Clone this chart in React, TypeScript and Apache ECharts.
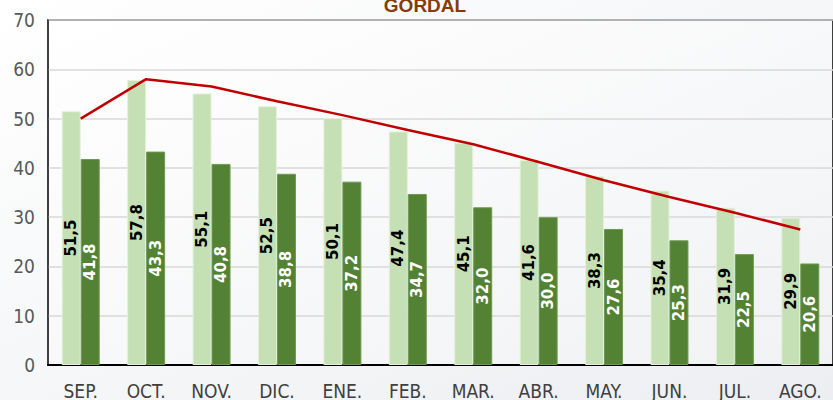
import React, { useEffect, useRef } from "react";
import * as echarts from "echarts";

const categories = ["SEP.", "OCT.", "NOV.", "DIC.", "ENE.", "FEB.", "MAR.", "ABR.", "MAY.", "JUN.", "JUL.", "AGO."];
const lightValues = [51.5, 57.8, 55.1, 52.5, 50.1, 47.4, 45.1, 41.6, 38.3, 35.4, 31.9, 29.9];
const darkValues = [41.8, 43.3, 40.8, 38.8, 37.2, 34.7, 32.0, 30.0, 27.6, 25.3, 22.5, 20.6];
const lineValues = [50.0, 58.0, 56.5, 53.5, 50.7, 47.7, 44.8, 41.2, 37.5, 34.1, 30.9, 27.5];
const titleText = "GORDAL";

const narrow = "'Liberation Sans Narrow', 'Arial Narrow', 'DejaVu Sans Condensed', 'Liberation Sans', Arial, sans-serif";
const fmt = (v: number) => v.toFixed(1).replace(".", ",");

export default function App() {
  const ref = useRef<HTMLDivElement>(null);
  useEffect(() => {
    document.body.style.margin = "0";
    const chart = echarts.init(ref.current!, null, { renderer: "svg" });
    chart.setOption({
      animation: false,
      backgroundColor: new echarts.graphic.LinearGradient(0, 0, 1, 1, [
        { offset: 0, color: "#ffffff" },
        { offset: 1, color: "#eceef1" },
      ]),
      title: {
        text: titleText,
        left: 425,
        textAlign: "center",
        top: -4,
        padding: 0,
        textStyle: { color: "#843c0c", fontSize: 19, fontWeight: "bold", fontFamily: "'Liberation Sans', Arial, sans-serif" },
      },
      grid: {
        left: 48,
        top: 20,
        bottom: 35,
        width: 800,
        show: true,
        borderColor: "#000000",
        borderWidth: 1.5,
        backgroundColor: new echarts.graphic.LinearGradient(0, 0, 1, 1, [
          { offset: 0, color: "#ffffff" },
          { offset: 1, color: "#f1f2f4" },
        ]),
      },
      xAxis: {
        type: "category",
        data: categories,
        axisLine: { lineStyle: { color: "#000000", width: 2 } },
        axisTick: { show: false },
        axisLabel: { color: "#404040", fontSize: 19, fontFamily: narrow, margin: 16 },
      },
      yAxis: {
        type: "value",
        min: 0,
        max: 70,
        interval: 10,
        axisLine: { show: true, lineStyle: { color: "#404040", width: 1.5 } },
        axisTick: { show: false },
        splitLine: { lineStyle: { color: "#d9d9d9", width: 1.5 } },
        axisLabel: { color: "#595959", fontSize: 19, fontFamily: narrow, margin: 13 },
      },
      series: [
        {
          type: "bar",
          data: lightValues,
          barWidth: 19,
          barGap: "0%",
          itemStyle: { color: "#c5e0b4", borderColor: "#e4f0dc", borderWidth: 1 },
          label: {
            show: true,
            position: "inside",
            rotate: 90,
            formatter: (p: any) => fmt(p.value),
            color: "#000000",
            fontSize: 15,
            fontWeight: "bold",
            fontFamily: "'DejaVu Sans', Verdana, sans-serif",
          },
        },
        {
          type: "bar",
          data: darkValues,
          barWidth: 19,
          barGap: "0%",
          itemStyle: { color: "#548235", borderColor: "#6f9a52", borderWidth: 1 },
          label: {
            show: true,
            position: "inside",
            rotate: 90,
            formatter: (p: any) => fmt(p.value),
            color: "#ffffff",
            fontSize: 15,
            fontWeight: "bold",
            fontFamily: "'DejaVu Sans', Verdana, sans-serif",
          },
        },
        {
          type: "line",
          data: lineValues,
          symbol: "none",
          lineStyle: { color: "#c00000", width: 2.5 },
          z: 5,
        },
      ],
    });
    return () => chart.dispose();
  }, []);
  return <div ref={ref} style={{ width: 833, height: 400 }} />;
}
